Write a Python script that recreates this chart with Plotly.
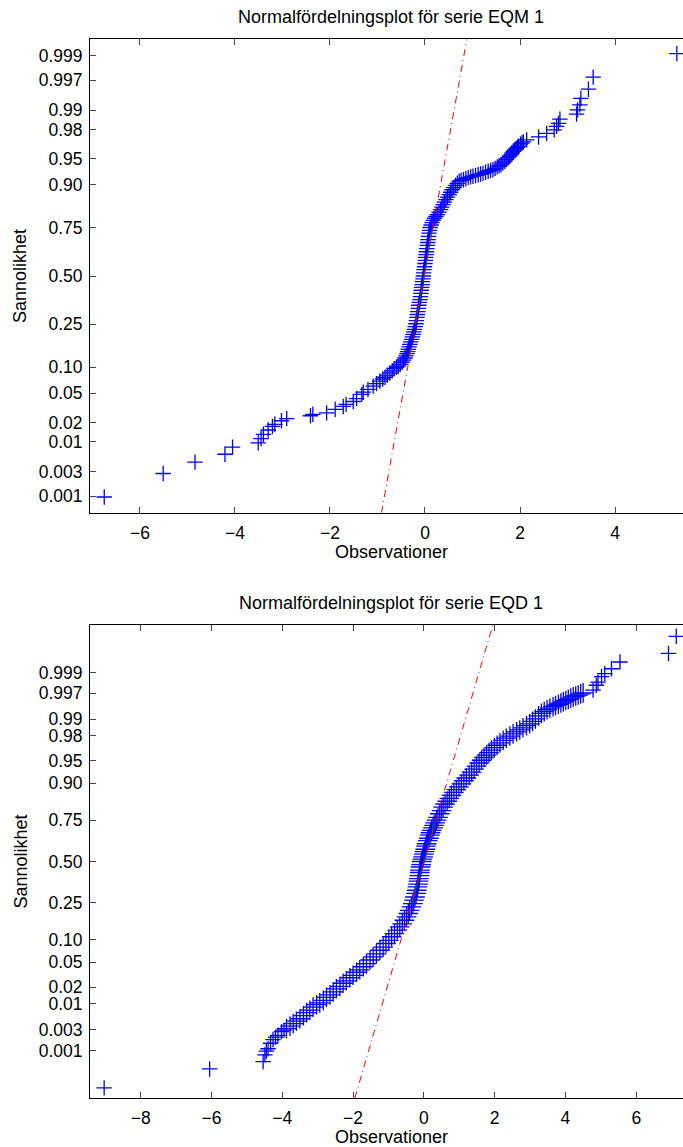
from statistics import NormalDist
import plotly.graph_objects as go

# ---- data: observations and their normal-quantile positions ----
# Series EQM 1
obs_eqm = [-6.75, -5.51, -4.84, -4.21, -4.05, -3.51, -3.45, -3.40, -3.30, -3.21,
           -3.16, -3.02, -2.91, -2.41, -2.36, -2.07, -1.89, -1.72, -1.66, -1.51,
           -1.44, -1.33, -1.30,
           -1.20, -1.09, -1.02, -0.95, -0.89, -0.84, -0.79, -0.74, -0.69, -0.65,
           -0.60, -0.56, -0.52, -0.48, -0.45, -0.42, -0.40, -0.38, -0.365, -0.35,
           -0.335, -0.32, -0.30, -0.28, -0.265, -0.25, -0.235, -0.22, -0.205, -0.19,
           -0.18, -0.17, -0.16, -0.15, -0.14, -0.13, -0.118, -0.105, -0.095, -0.085,
           -0.078, -0.07, -0.06, -0.05, -0.042, -0.035, -0.028, -0.02, -0.01, 0.0,
           0.008, 0.015, 0.022, 0.03, 0.04, 0.05, 0.058, 0.065, 0.075, 0.085,
           0.097, 0.11, 0.13, 0.15, 0.175, 0.20, 0.23, 0.26, 0.295, 0.33,
           0.355, 0.38, 0.41, 0.44, 0.475, 0.51, 0.54, 0.57, 0.605, 0.64,
           0.68, 0.72, 0.76, 0.81, 0.86, 0.91, 0.96, 1.01, 1.065, 1.12,
           1.17, 1.22, 1.275, 1.33, 1.38, 1.43, 1.475, 1.52, 1.56, 1.60,
           1.64, 1.68, 1.715, 1.75, 1.78, 1.81, 1.835, 1.86, 1.89, 1.92,
           1.945, 1.97, 2.01, 2.04, 2.07,
           2.14, 2.39, 2.56, 2.72, 2.77, 2.81, 2.84,
           3.19, 3.21, 3.26, 3.28, 3.44, 3.54, 5.30]
zq_eqm = [-3.10, -2.77, -2.61, -2.50, -2.40, -2.34, -2.28, -2.22, -2.16, -2.11,
          -2.08, -2.03, -2.00, -1.96, -1.94, -1.92, -1.87, -1.83, -1.80, -1.76,
          -1.72, -1.66, -1.63,
          -1.59, -1.545, -1.51, -1.475, -1.445, -1.42, -1.39, -1.36, -1.33, -1.30,
          -1.28, -1.265, -1.24, -1.21, -1.18, -1.15, -1.12, -1.09, -1.06, -1.03,
          -0.995, -0.96, -0.925, -0.89, -0.855, -0.82, -0.785, -0.75, -0.71, -0.67,
          -0.625, -0.58, -0.54, -0.50, -0.455, -0.41, -0.37, -0.33, -0.29, -0.245,
          -0.20, -0.16, -0.12, -0.08, -0.04, 0.0, 0.045, 0.09, 0.13, 0.175,
          0.22, 0.26, 0.30, 0.34, 0.385, 0.43, 0.47, 0.51, 0.555, 0.60,
          0.64, 0.68, 0.715, 0.75, 0.78, 0.81, 0.835, 0.86, 0.895, 0.93,
          0.965, 1.00, 1.035, 1.07, 1.105, 1.14, 1.175, 1.21, 1.24, 1.27,
          1.30, 1.33, 1.34, 1.35, 1.365, 1.38, 1.39, 1.40, 1.41, 1.42,
          1.43, 1.44, 1.455, 1.47, 1.48, 1.49, 1.51, 1.53, 1.545, 1.56,
          1.585, 1.61, 1.635, 1.66, 1.68, 1.70, 1.725, 1.75, 1.77, 1.79,
          1.805, 1.82, 1.85, 1.865, 1.88,
          1.91, 1.95, 2.00, 2.05, 2.10, 2.14, 2.20,
          2.27, 2.33, 2.40, 2.49, 2.62, 2.79, 3.12]
q25_eqm, q75_eqm = -0.20, 0.165

# Series EQD 1
obs_eqd = [-9.03, -6.05, -4.54, -4.49, -4.45, -4.40, -4.33, -4.26, -4.19, -4.12,
           -4.02, -3.95,
           -3.88, -3.78, -3.69, -3.60, -3.50, -3.40, -3.31, -3.22, -3.13, -3.03,
           -2.94, -2.84, -2.75, -2.65, -2.56, -2.47, -2.37, -2.28, -2.19, -2.09,
           -2.00, -1.90, -1.81, -1.71, -1.62, -1.52, -1.43, -1.34, -1.24, -1.15,
           -1.07, -0.99, -0.91, -0.83, -0.75, -0.68,
           -0.61, -0.55, -0.49, -0.44, -0.40, -0.35, -0.31, -0.28, -0.25, -0.22,
           -0.20, -0.18, -0.165, -0.15, -0.14, -0.125, -0.115, -0.11, -0.09, -0.075,
           -0.06, -0.04, -0.02, 0.0, 0.02, 0.04, 0.06, 0.08, 0.11, 0.14,
           0.17, 0.19, 0.22, 0.26, 0.29, 0.32, 0.36, 0.40, 0.45, 0.50,
           0.545, 0.60, 0.66, 0.72, 0.78,
           0.85, 0.92, 0.99, 1.06, 1.13, 1.20, 1.28, 1.35, 1.42, 1.49,
           1.56, 1.63, 1.70, 1.77, 1.84, 1.91, 1.99, 2.07, 2.15, 2.24,
           2.33, 2.43, 2.52, 2.62, 2.71, 2.80, 2.90, 2.99, 3.07, 3.15,
           3.24, 3.32, 3.40, 3.48, 3.56, 3.65, 3.72, 3.80, 3.87, 3.94,
           4.01, 4.08, 4.15, 4.22, 4.29, 4.36, 4.43, 4.50,
           4.78, 4.87, 4.92, 5.02, 5.11, 5.30, 5.54, 6.91, 7.13]
zq_eqd = [-3.70, -3.39, -3.27, -3.16, -3.10, -3.06, -2.97, -2.91, -2.87, -2.84,
          -2.78, -2.755,
          -2.73, -2.69, -2.65, -2.61, -2.57, -2.52, -2.47, -2.43, -2.38, -2.34,
          -2.31, -2.27, -2.22, -2.18, -2.13, -2.08, -2.04, -1.99, -1.95, -1.90,
          -1.86, -1.81, -1.77, -1.72, -1.67, -1.61, -1.56, -1.51, -1.45, -1.40,
          -1.34, -1.29, -1.23, -1.18, -1.12, -1.07,
          -1.02, -0.96, -0.905, -0.85, -0.80, -0.74, -0.69, -0.63, -0.58, -0.52,
          -0.47, -0.415, -0.37, -0.32, -0.28, -0.23, -0.18, -0.14, -0.09, -0.05,
          0.0, 0.04, 0.075, 0.12, 0.16, 0.20, 0.25, 0.29, 0.34, 0.38,
          0.43, 0.47, 0.51, 0.55, 0.59, 0.63, 0.675, 0.72, 0.78, 0.83,
          0.89, 0.94, 0.985, 1.03, 1.08,
          1.13, 1.175, 1.22, 1.27, 1.32, 1.365, 1.41, 1.46, 1.51, 1.56,
          1.61, 1.655, 1.70, 1.74, 1.78, 1.82, 1.86, 1.90, 1.94, 1.98,
          2.015, 2.05, 2.085, 2.12, 2.15, 2.185, 2.22, 2.25, 2.29, 2.33,
          2.38, 2.42, 2.45, 2.48, 2.505, 2.53, 2.55, 2.57, 2.59, 2.61,
          2.63, 2.65, 2.67, 2.69, 2.705, 2.72, 2.74, 2.755,
          2.80, 2.88, 2.93, 3.02, 3.07, 3.15, 3.26, 3.40, 3.68]
q25_eqd, q75_eqd = -0.34, 0.34

# probability axis labels
prob_ticks = [0.001, 0.003, 0.01, 0.02, 0.05, 0.10, 0.25, 0.50,
              0.75, 0.90, 0.95, 0.98, 0.99, 0.997, 0.999]
prob_labels = ["0.001", "0.003", "0.01", "0.02", "0.05", "0.10", "0.25", "0.50",
               "0.75", "0.90", "0.95", "0.98", "0.99", "0.997", "0.999"]

titles = ["Normalfördelningsplot för serie EQM 1", "Normalfördelningsplot för serie EQD 1"]
xlabel = "Observationer"
ylabel = "Sannolikhet"

# ---- layout geometry (pixels) ----
W, H = 683, 1147
LEFT = 90
panels = [
    dict(top=39.3, bottom=512.7, xr=[-7.05, 5.43], yr=[-3.32, 3.32], dtick_x=2,
         dense=(-9.0, 9.0), dense_size=11),
    dict(top=625.0, bottom=1098.0, xr=[-9.43, 7.32], yr=[-3.865, 3.865], dtick_x=2,
         dense=(-2.74, 2.76), dense_size=14),
]
FONT = "Liberation Sans, Arial, Helvetica, sans-serif"
FS_TICK = 17.5
FS_TEXT = 18

nd = NormalDist()
tick_z = [nd.inv_cdf(p) for p in prob_ticks]
z25, z75 = nd.inv_cdf(0.25), nd.inv_cdf(0.75)

series = [(obs_eqm, zq_eqm, q25_eqm, q75_eqm), (obs_eqd, zq_eqd, q25_eqd, q75_eqd)]

fig = go.Figure()
annotations = []
for i, ((obs, zq, q25, q75), pan) in enumerate(zip(series, panels)):
    xa = "x" if i == 0 else "x2"
    ya = "y" if i == 0 else "y2"
    # crosses drawn a little larger where thousands of observations pile up
    lo, hi = pan["dense"]
    sizes = [pan["dense_size"] if lo <= z <= hi else 11 for z in zq]
    fig.add_trace(go.Scatter(
        x=obs, y=zq, mode="markers", xaxis=xa, yaxis=ya,
        marker=dict(symbol="cross-thin", size=sizes, color="blue", opacity=1.0,
                    line=dict(color="blue", width=1.3)),
        hoverinfo="skip", showlegend=False))
    # reference line through the quartiles
    slope = (q75 - q25) / (z75 - z25)
    centre = q25 - slope * z25
    fig.add_trace(go.Scatter(
        x=[q25, q75], y=[z25, z75], mode="lines", xaxis=xa, yaxis=ya,
        line=dict(color="rgb(0,128,0)", width=1), hoverinfo="skip", showlegend=False))
    zlo, zhi = pan["yr"]
    fig.add_trace(go.Scatter(
        x=[centre + slope * zlo, centre + slope * zhi], y=[zlo, zhi],
        mode="lines", xaxis=xa, yaxis=ya,
        line=dict(color="red", width=1, dash="7px,4px,1px,4px"),
        hoverinfo="skip", showlegend=False))

    ydom = [1 - pan["bottom"] / H, 1 - pan["top"] / H]
    axis_common = dict(showgrid=False, zeroline=False, showline=True,
                       linecolor="black", linewidth=1, ticks="inside", ticklen=6,
                       tickcolor="rgb(70,70,70)", tickwidth=1,
                       tickfont=dict(family=FONT, size=FS_TICK, color="black"))
    xkey = "xaxis" if i == 0 else "xaxis2"
    ykey = "yaxis" if i == 0 else "yaxis2"
    fig.update_layout(**{
        xkey: dict(axis_common, domain=[LEFT / W, 1.0], range=pan["xr"],
                   dtick=pan["dtick_x"], tick0=0, mirror="ticks",
                   anchor=ya, ticklabelstandoff=4),
        ykey: dict(axis_common, domain=ydom, range=list(pan["yr"]),
                   tickmode="array", tickvals=tick_z, ticktext=prob_labels,
                   mirror=False, anchor=xa, ticklabelstandoff=3),
    })
    # panel title and axis titles
    annotations.append(dict(text=titles[i], x=391 / W, y=1 - (pan["top"] - 22) / H,
                            xref="paper", yref="paper", showarrow=False,
                            xanchor="center", yanchor="middle",
                            font=dict(family=FONT, size=FS_TEXT, color="black")))
    annotations.append(dict(text=xlabel, x=391 / W, y=1 - (pan["bottom"] + 39) / H,
                            xref="paper", yref="paper", showarrow=False,
                            xanchor="center", yanchor="middle",
                            font=dict(family=FONT, size=FS_TEXT, color="black")))
    annotations.append(dict(text=ylabel, x=20 / W,
                            y=1 - ((pan["top"] + pan["bottom"]) / 2) / H,
                            xref="paper", yref="paper", showarrow=False, textangle=-90,
                            xanchor="center", yanchor="middle",
                            font=dict(family=FONT, size=FS_TEXT, color="black")))

fig.update_layout(width=W, height=H, margin=dict(l=0, r=0, t=0, b=0),
                  paper_bgcolor="white", plot_bgcolor="white",
                  annotations=annotations, showlegend=False)

fig.write_html("out.html")
